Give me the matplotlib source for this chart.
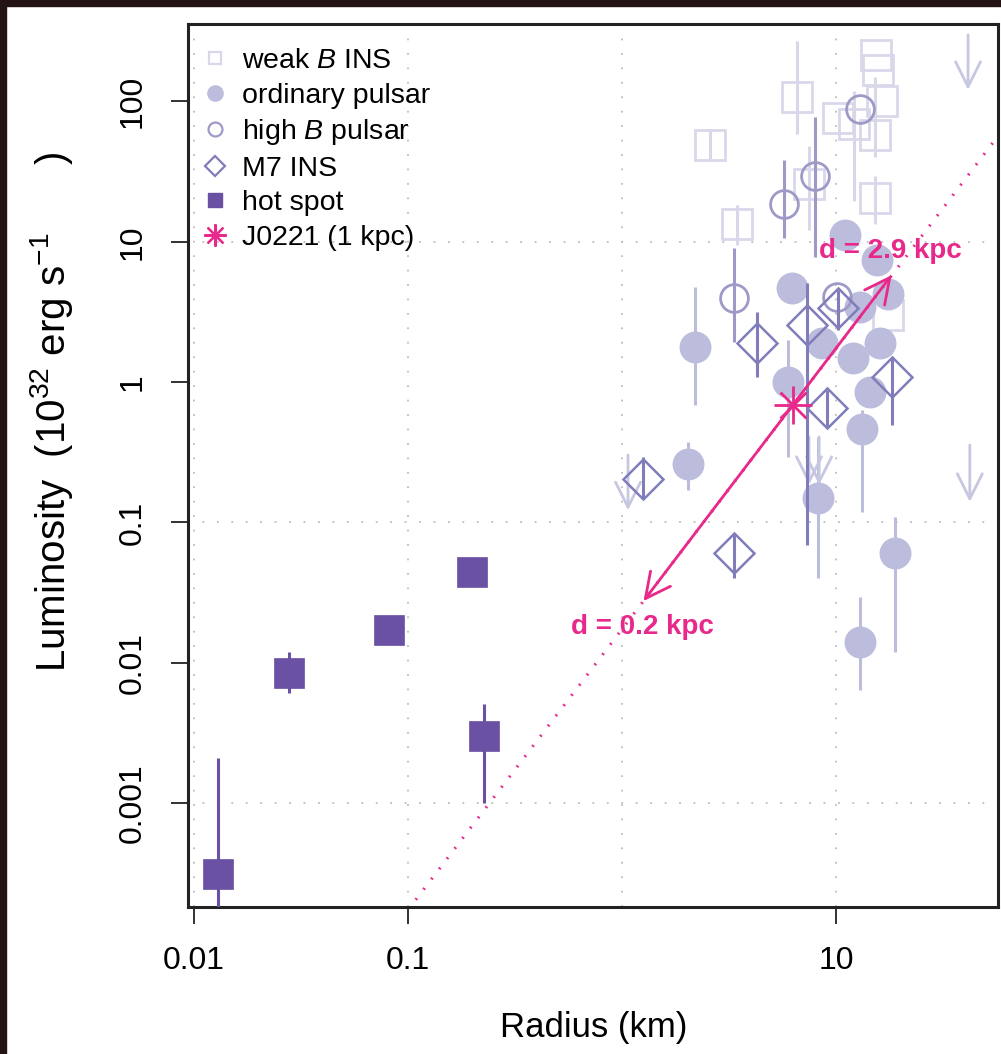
import matplotlib
matplotlib.use("Agg")
import matplotlib.pyplot as plt
from matplotlib.lines import Line2D
from matplotlib.patches import Rectangle
from matplotlib.ticker import NullLocator

plt.rcParams['font.family'] = ['Liberation Sans', 'DejaVu Sans']
plt.rcParams['mathtext.fontset'] = 'custom'
plt.rcParams['mathtext.rm'] = 'Liberation Sans'
plt.rcParams['mathtext.it'] = 'Liberation Sans:italic'

# ---- colours (Purples) ----
c_weak = '#D8D8EA'
c_ord = '#BCBDDC'
c_highb = '#9E9AC8'
c_m7 = '#807DBA'
c_hot = '#6A51A3'
c_pink = '#E8288A'
c_ul = '#C6C7E1'

# ---- weak B INS (radius km, luminosity 1e32 erg/s, error range) ----
weak_r = [2.58, 6.58, 10.2, 12.1, 15.4, 15.7, 16.4, 15.2, 15.2, 7.48, 3.44, 17.5]
weak_L = [49, 108, 76, 69, 214, 168, 101, 57.7, 20.5, 25.8, 13.4, 3.0]
weak_lo = [38, 58.6, 76, 19.5, 214, 168, 101, 40, 13.4, 12.1, 9.5, 3.0]
weak_hi = [63, 270, 76, 119, 214, 168, 101, 150, 29.4, 48, 18.3, 3.0]

# ---- ordinary pulsars ----
ord_r = [2.19, 2.03, 6.22, 5.97, 11.0, 8.61, 12.0, 16.1, 14.4, 13.2, 8.24, 18.9, 12.9, 17.5, 15.6, 12.9]
ord_L = [1.78, 0.261, 4.69, 1.0, 11.2, 1.90, 1.49, 1.90, 0.849, 0.464, 0.149, 0.0605, 0.0141, 4.25, 7.41, 3.43]
ord_lo = [0.687, 0.170, 4.69, 0.292, 11.2, 1.90, 1.49, 1.90, 0.849, 0.119, 0.040, 0.0119, 0.0064, 4.25, 7.41, 3.43]
ord_hi = [4.77, 0.374, 4.69, 2.0, 11.2, 1.90, 1.49, 1.90, 0.849, 0.63, 0.407, 0.109, 0.0294, 4.25, 7.41, 3.43]

# ---- high B pulsars ----
hb_r = [12.9, 7.98, 5.71, 3.33, 10.1]
hb_L = [88.3, 29.4, 18.6, 3.97, 4.05]
hb_lo = [88.3, 7.8, 10.6, 1.93, 4.05]
hb_hi = [88.3, 77.6, 38.3, 9.0, 4.05]

# ---- M7 INS ----
m7_r = [1.25, 3.33, 4.28, 7.31, 10.2, 9.08, 18.3]
m7_L = [0.204, 0.0605, 1.90, 2.55, 3.37, 0.653, 1.09]
m7_lo = [0.149, 0.040, 1.09, 0.069, 2.35, 0.471, 0.494]
m7_hi = [0.292, 0.084, 3.16, 5.08, 4.53, 0.879, 1.51]

# ---- hot spots ----
hot_r = [0.0129, 0.0278, 0.0818, 0.200, 0.227]
hot_L = [3.1e-4, 0.0085, 0.0171, 0.044, 0.0030]
hot_lo = [1e-4, 0.0061, 0.0171, 0.044, 0.0010]
hot_hi = [0.0021, 0.0119, 0.0171, 0.044, 0.0051]

# ---- upper limits (arrows) ----
ul_r = [41.4, 42.2, 1.067, 7.48, 8.34]
ul_top = [298, 0.356, 0.302, 0.407, 0.407]
ul_tip = [121, 0.140, 0.122, 0.185, 0.185]

# ---- J0221 at 1 kpc, and range 0.2 - 2.9 kpc ----
j_r, j_L = 6.30, 0.687
d_r = [1.26, 18.2]
d_L = [0.0275, 5.78]
# L ~ R^2 line through J0221
line_r = [0.1, 57.1]
line_L = [1.73e-4, 56.6]

fig = plt.figure(figsize=(10.01, 10.54), dpi=100)
fig.patches.append(Rectangle((0, 1 - 6 / 1054), 1, 6 / 1054, transform=fig.transFigure,
                             color='#231314', zorder=0))
fig.patches.append(Rectangle((0, 0), 6 / 1001, 1, transform=fig.transFigure,
                             color='#231314', zorder=0))

ax = fig.add_axes([188 / 1001, 1 - 907 / 1054, (998 - 188) / 1001, (907 - 24) / 1054])
ax.set_xscale('log')
ax.set_yscale('log')
ax.set_xlim(10 ** -2.028, 10 ** 1.757)
ax.set_ylim(10 ** -3.741, 10 ** 2.552)

# grid
for gx in [0.01, 0.1, 1, 10]:
    ax.axvline(gx, color='#BDBDBD', lw=1.3, ls=(0, (1, 7)), zorder=0)
for gy in [0.001, 0.1, 10]:
    ax.axhline(gy, color='#BDBDBD', lw=1.3, ls=(0, (1, 7)), zorder=0)

ebw = 2.2
# weak B
ax.vlines(weak_r, weak_lo, weak_hi, color=c_weak, lw=ebw, zorder=1)
ax.plot(weak_r, weak_L, ls='none', marker='s', ms=21, mfc='none', mec=c_weak, mew=2.0, zorder=1)
# ordinary
ax.vlines(ord_r, ord_lo, ord_hi, color=c_ord, lw=ebw, zorder=2)
ax.plot(ord_r, ord_L, ls='none', marker='o', ms=23, mfc=c_ord, mec='none', zorder=2)
# upper limits
for r, t, b in zip(ul_r, ul_top, ul_tip):
    ax.annotate('', xy=(r, b), xytext=(r, t),
                arrowprops=dict(arrowstyle='->,head_length=0.9,head_width=0.45',
                                color=c_ul, lw=2.0, shrinkA=0, shrinkB=0,
                                mutation_scale=20), zorder=2)
# high B
ax.vlines(hb_r, hb_lo, hb_hi, color=c_highb, lw=ebw, zorder=3)
ax.plot(hb_r, hb_L, ls='none', marker='o', ms=20, mfc='none', mec=c_highb, mew=2.0, zorder=3)
# M7
ax.vlines(m7_r, m7_lo, m7_hi, color=c_m7, lw=ebw, zorder=4)
ax.plot(m7_r, m7_L, ls='none', marker='D', ms=20, mfc='none', mec=c_m7, mew=1.8, zorder=4)
# hot spots
ax.vlines(hot_r, hot_lo, hot_hi, color=c_hot, lw=ebw, zorder=5)
ax.plot(hot_r, hot_L, ls='none', marker='s', ms=21, mfc=c_hot, mec=c_hot, mew=0.5, zorder=5)

# J0221
ax.plot(line_r, line_L, color=c_pink, lw=2.2, ls=(0, (0.6, 3.6)), zorder=6)
ax.annotate('', xy=(d_r[1], d_L[1]), xytext=(d_r[0], d_L[0]),
            arrowprops=dict(arrowstyle='<->,head_length=0.9,head_width=0.45',
                            color=c_pink, lw=2.0, shrinkA=0, shrinkB=0,
                            mutation_scale=20), zorder=7)
ax.plot(j_r, j_L, ls='none', marker='+', ms=28, mew=2.0, color=c_pink, zorder=7)
ax.plot(j_r, j_L, ls='none', marker='x', ms=19, mew=2.0, color=c_pink, zorder=7)
ax.text(18.0, 8.65, 'd = 2.9 kpc', color=c_pink, fontsize=20, fontweight='bold',
        ha='center', va='center', zorder=8)
ax.text(1.25, 0.0179, 'd = 0.2 kpc', color=c_pink, fontsize=20, fontweight='bold',
        ha='center', va='center', zorder=8)

# legend
handles = [
    Line2D([], [], ls='none', marker='s', ms=9, mfc='none', mec=c_weak, mew=1.6, label='weak $B$ INS'),
    Line2D([], [], ls='none', marker='o', ms=12, mfc=c_ord, mec='none', label='ordinary pulsar'),
    Line2D([], [], ls='none', marker='o', ms=10, mfc='none', mec=c_highb, mew=1.6, label='high $B$ pulsar'),
    Line2D([], [], ls='none', marker='D', ms=10, mfc='none', mec=c_m7, mew=1.6, label='M7 INS'),
    Line2D([], [], ls='none', marker='s', ms=10, mfc=c_hot, mec=c_hot, label='hot spot'),
    Line2D([], [], ls='none', marker=(8, 2, 0), ms=16, mew=1.6, color=c_pink, label='J0221 (1 kpc)'),
]
ax.legend(handles=handles, loc='upper left', bbox_to_anchor=(201 / 1001, 1 - 48 / 1054),
          bbox_transform=fig.transFigure, frameon=False, fontsize=20.5, handlelength=1.0,
          handletextpad=0.45, labelspacing=0.3, borderpad=0, borderaxespad=0)

# axes styling
for s in ax.spines.values():
    s.set_linewidth(2.2)
    s.set_color('#222222')
ax.xaxis.set_minor_locator(NullLocator())
ax.yaxis.set_minor_locator(NullLocator())
ax.set_xticks([0.01, 0.1, 10])
ax.set_xticklabels(['0.01', '0.1', '10'])
ax.set_yticks([0.001, 0.01, 0.1, 1, 10, 100])
ax.set_yticklabels(['0.001', '0.01', '0.1', '1', '10', '100'], rotation=90, va='center')
ax.tick_params(axis='both', length=12, width=1.3, color='#222222', labelsize=23)
ax.tick_params(axis='x', pad=16)
ax.tick_params(axis='y', pad=17)

fig.text(594 / 1001, 1 - 1028 / 1054, 'Radius (km)', fontsize=25, ha='center', va='center')
fig.text(52 / 1001, 1 - 412 / 1054,
         r'Luminosity $\ (10^{32}\ \mathrm{erg}\ \mathrm{s}^{-1}\quad\quad)$',
         fontsize=29, rotation=90, ha='center', va='center')

fig.savefig('out.png', dpi=100, facecolor='white')
